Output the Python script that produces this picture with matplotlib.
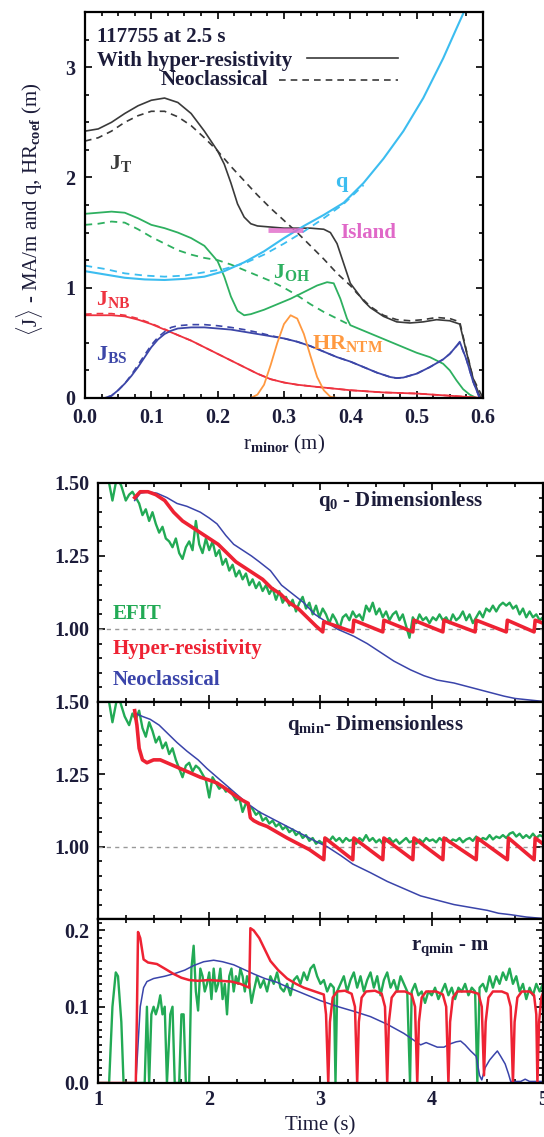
import numpy as np
import matplotlib.pyplot as plt
from matplotlib.ticker import MultipleLocator

plt.rcParams['font.family'] = ['Liberation Serif', 'DejaVu Sans']
plt.rcParams['font.weight'] = 'bold'
plt.rcParams['mathtext.fontset'] = 'custom'
plt.rcParams['mathtext.rm'] = 'Liberation Serif:bold'
plt.rcParams['mathtext.it'] = 'Liberation Serif:bold'
plt.rcParams['mathtext.bf'] = 'Liberation Serif:bold'

# =============================================================================
# Radial profiles at 2.5 s (r_minor in m)
# =============================================================================
jt_r = [0.00, 0.02, 0.04, 0.06, 0.08, 0.10, 0.12, 0.14, 0.16, 0.18, 0.20, 0.21, 0.22, 0.23, 0.24,
        0.25, 0.26, 0.28, 0.30, 0.32, 0.34, 0.36, 0.37, 0.38, 0.39, 0.40, 0.41, 0.42, 0.43, 0.45,
        0.47, 0.49, 0.51, 0.53, 0.55, 0.56, 0.565, 0.575, 0.585, 0.595, 0.60]
jt_hr = [2.42, 2.44, 2.50, 2.58, 2.65, 2.70, 2.72, 2.68, 2.58, 2.42, 2.24, 2.12, 1.95, 1.76, 1.64,
         1.58, 1.56, 1.55, 1.54, 1.54, 1.54, 1.53, 1.50, 1.40, 1.22, 1.04, 0.96, 0.88, 0.82, 0.74,
         0.69, 0.68, 0.69, 0.71, 0.70, 0.68, 0.67, 0.42, 0.18, 0.02, 0.00]
jt_neo_r = [0.00, 0.02, 0.04, 0.06, 0.08, 0.10, 0.12, 0.14, 0.16, 0.18, 0.20, 0.22, 0.24, 0.26,
            0.28, 0.30, 0.32, 0.34, 0.36, 0.38, 0.40, 0.41, 0.43, 0.45, 0.47, 0.49, 0.51, 0.53,
            0.55, 0.565, 0.575, 0.585, 0.60]
jt_neo = [2.33, 2.36, 2.42, 2.50, 2.56, 2.60, 2.60, 2.55, 2.47, 2.36, 2.24, 2.10, 1.97, 1.84,
          1.72, 1.61, 1.50, 1.38, 1.26, 1.13, 1.02, 0.95, 0.83, 0.75, 0.71, 0.70, 0.71, 0.73,
          0.72, 0.69, 0.43, 0.18, 0.00]

joh_r = [0.00, 0.02, 0.04, 0.06, 0.08, 0.10, 0.12, 0.14, 0.16, 0.18, 0.20, 0.21, 0.22, 0.23, 0.24,
         0.25, 0.27, 0.29, 0.31, 0.33, 0.35, 0.365, 0.375, 0.385, 0.395, 0.40, 0.42, 0.44, 0.46,
         0.48, 0.50, 0.52, 0.54, 0.55, 0.56, 0.57, 0.58, 0.59]
joh_hr = [1.67, 1.68, 1.69, 1.68, 1.63, 1.57, 1.54, 1.50, 1.45, 1.38, 1.24, 1.10, 0.92, 0.79, 0.75,
          0.76, 0.80, 0.85, 0.90, 0.96, 1.02, 1.05, 1.04, 0.90, 0.72, 0.66, 0.61, 0.56, 0.51,
          0.46, 0.41, 0.37, 0.31, 0.25, 0.16, 0.08, 0.03, 0.00]
joh_neo_r = [0.00, 0.02, 0.04, 0.06, 0.08, 0.10, 0.12, 0.14, 0.16, 0.18, 0.20, 0.22, 0.24, 0.26,
             0.28, 0.30, 0.32, 0.34, 0.36, 0.38, 0.40]
joh_neo = [1.57, 1.58, 1.60, 1.59, 1.53, 1.46, 1.40, 1.34, 1.30, 1.27, 1.25, 1.21, 1.16, 1.11,
           1.06, 1.00, 0.93, 0.85, 0.78, 0.72, 0.66]

q_r = [0.00, 0.03, 0.06, 0.09, 0.12, 0.15, 0.18, 0.21, 0.24, 0.27, 0.30, 0.33, 0.36, 0.39, 0.42,
       0.45, 0.48, 0.51, 0.54, 0.56, 0.575]
q_hr = [1.15, 1.12, 1.09, 1.075, 1.07, 1.08, 1.10, 1.15, 1.23, 1.33, 1.45, 1.56, 1.66, 1.77, 1.95,
        2.17, 2.42, 2.72, 3.08, 3.35, 3.55]
q_neo_r = [0.00, 0.03, 0.06, 0.09, 0.12, 0.15, 0.18, 0.21, 0.24, 0.27, 0.30, 0.33, 0.36, 0.39, 0.42]
q_neo = [1.20, 1.17, 1.13, 1.11, 1.10, 1.11, 1.14, 1.17, 1.22, 1.30, 1.40, 1.51, 1.63, 1.76, 1.93]

jnb_r = [0.00, 0.02, 0.04, 0.06, 0.08, 0.10, 0.12, 0.14, 0.16, 0.18, 0.20, 0.22, 0.24, 0.26, 0.28,
         0.30, 0.32, 0.35, 0.40, 0.45, 0.50, 0.55, 0.60]
jnb_hr = [0.75, 0.75, 0.75, 0.74, 0.71, 0.67, 0.62, 0.57, 0.52, 0.46, 0.40, 0.34, 0.28, 0.22, 0.17,
          0.14, 0.12, 0.10, 0.07, 0.05, 0.04, 0.02, 0.00]
jnb_neo = [0.76, 0.765, 0.765, 0.75, 0.72, 0.675, 0.625, 0.57, 0.52, 0.46, 0.40, 0.34, 0.28, 0.22,
           0.17, 0.14, 0.12, 0.10, 0.07, 0.05, 0.04, 0.02, 0.00]

jbs_r = [0.00, 0.03, 0.04, 0.05, 0.06, 0.07, 0.08, 0.09, 0.10, 0.11, 0.12, 0.13, 0.14, 0.16, 0.18,
         0.20, 0.22, 0.24, 0.26, 0.28, 0.30, 0.32, 0.34, 0.36, 0.38, 0.40, 0.42, 0.44, 0.46, 0.47,
         0.48, 0.50, 0.52, 0.54, 0.55, 0.56, 0.565, 0.575, 0.585, 0.595]
jbs_hr = [0.00, 0.00, 0.02, 0.07, 0.13, 0.20, 0.28, 0.37, 0.46, 0.53, 0.58, 0.61, 0.63, 0.64, 0.64,
          0.63, 0.62, 0.60, 0.58, 0.56, 0.54, 0.51, 0.47, 0.42, 0.37, 0.33, 0.28, 0.23, 0.19, 0.18,
          0.185, 0.22, 0.28, 0.35, 0.40, 0.47, 0.51, 0.35, 0.15, 0.00]
jbs_neo = [0.00, 0.00, 0.02, 0.07, 0.13, 0.21, 0.30, 0.39, 0.48, 0.55, 0.60, 0.64, 0.655, 0.665, 0.665,
           0.655, 0.64, 0.62, 0.595, 0.565, 0.54, 0.51, 0.47, 0.42, 0.37, 0.33, 0.28, 0.23, 0.19, 0.18,
           0.185, 0.22, 0.28, 0.35, 0.40, 0.47, 0.50, 0.35, 0.15, 0.00]

hr_r = [0.00, 0.25, 0.26, 0.27, 0.28, 0.29, 0.30, 0.31, 0.32, 0.33, 0.34, 0.35, 0.36, 0.37, 0.38, 0.60]
hr_ntm = [0.00, 0.00, 0.03, 0.12, 0.30, 0.50, 0.67, 0.75, 0.72, 0.58, 0.38, 0.19, 0.07, 0.01, 0.00, 0.00]

island_r = [0.276, 0.329]
island_q = 1.52

# =============================================================================
# Time traces (time in s)
# =============================================================================
# q0
q0_efit_t = [1.02, 1.06, 1.10, 1.13, 1.17, 1.21, 1.25, 1.28, 1.31, 1.34, 1.37, 1.40, 1.43, 1.46, 1.49,
             1.52, 1.55, 1.58, 1.61, 1.64, 1.67, 1.70, 1.73, 1.76, 1.79, 1.82, 1.85, 1.88, 1.91, 1.94,
             1.97, 2.00, 2.03, 2.06, 2.09, 2.12, 2.15, 2.18, 2.21, 2.24, 2.27, 2.30, 2.33, 2.36, 2.39,
             2.42, 2.45, 2.48, 2.51, 2.54, 2.57, 2.60, 2.63, 2.66, 2.69, 2.72, 2.75, 2.78, 2.81, 2.84,
             2.87, 2.90, 2.93, 2.96, 2.99, 3.02, 3.05, 3.08, 3.11, 3.14, 3.17, 3.20, 3.23, 3.26, 3.29,
             3.32, 3.35, 3.38, 3.41, 3.44, 3.47, 3.50, 3.53, 3.56, 3.59, 3.62, 3.65, 3.68, 3.71, 3.74,
             3.77, 3.80, 3.83, 3.86, 3.89, 3.92, 3.95, 3.98, 4.01, 4.04, 4.07, 4.10, 4.13, 4.16, 4.19,
             4.22, 4.25, 4.28, 4.31, 4.34, 4.37, 4.40, 4.43, 4.46, 4.49, 4.52, 4.55, 4.58, 4.61, 4.64,
             4.67, 4.70, 4.73, 4.76, 4.79, 4.82, 4.85, 4.88, 4.91, 4.94, 4.97, 5.00]
q0_efit = [1.52, 1.56, 1.50, 1.44, 1.52, 1.49, 1.44, 1.46, 1.47, 1.45, 1.43, 1.39, 1.41, 1.37, 1.40,
           1.36, 1.33, 1.35, 1.31, 1.30, 1.28, 1.31, 1.26, 1.24, 1.28, 1.30, 1.27, 1.37, 1.29, 1.26,
           1.31, 1.27, 1.30, 1.25, 1.27, 1.22, 1.24, 1.20, 1.22, 1.18, 1.20, 1.17, 1.19, 1.15, 1.17,
           1.14, 1.16, 1.13, 1.15, 1.12, 1.14, 1.10, 1.13, 1.09, 1.11, 1.08, 1.10, 1.06, 1.09, 1.11,
           1.07, 1.09, 1.05, 1.08, 1.04, 1.07, 1.05, 1.02, 1.05, 1.03, 1.00, 1.04, 1.05, 1.03, 1.06,
           1.04, 1.05, 1.03, 1.08, 1.06, 1.09, 1.05, 1.07, 1.04, 1.06, 1.03, 1.05, 1.06, 1.03, 1.05,
           1.01, 0.97, 1.04, 1.02, 1.05, 1.03, 1.04, 1.02, 1.04, 1.03, 1.05, 1.03, 1.04, 1.02, 1.05,
           1.03, 1.04, 1.06, 1.03, 1.05, 1.02, 1.04, 1.06, 1.04, 1.07, 1.06, 1.08, 1.06, 1.08, 1.09,
           1.08, 1.09, 1.07, 1.08, 1.05, 1.07, 1.04, 1.06, 1.04, 1.05, 1.03, 1.04]
q0_hr_t = [1.33, 1.38, 1.45, 1.52, 1.60, 1.68, 1.76, 1.84, 1.92, 2.00, 2.08, 2.16, 2.24, 2.32, 2.40,
           2.48, 2.56, 2.64, 2.72, 2.80, 2.88, 2.96, 3.02, 3.03, 3.29, 3.30, 3.56, 3.57, 3.83, 3.84,
           4.10, 4.11, 4.39, 4.40, 4.67, 4.68, 4.92, 4.93, 5.00]
q0_hr = [1.45, 1.47, 1.47, 1.46, 1.44, 1.40, 1.37, 1.35, 1.33, 1.31, 1.29, 1.26, 1.23, 1.21, 1.19,
         1.17, 1.14, 1.12, 1.09, 1.07, 1.04, 1.01, 0.99, 1.025, 0.99, 1.03, 0.99, 1.03, 0.99, 1.03,
         0.99, 1.03, 0.99, 1.03, 0.99, 1.03, 0.99, 1.03, 1.02]
q0_neo_t = [1.33, 1.38, 1.45, 1.53, 1.62, 1.71, 1.80, 1.92, 2.00, 2.07, 2.15, 2.22, 2.30, 2.38, 2.45,
            2.55, 2.65, 2.75, 2.85, 2.95, 3.03, 3.15, 3.30, 3.42, 3.54, 3.66, 3.81, 3.93, 4.05, 4.20,
            4.35, 4.50, 4.65, 4.75, 4.85, 5.00]
q0_neo = [1.44, 1.465, 1.47, 1.465, 1.45, 1.43, 1.42, 1.40, 1.38, 1.36, 1.32, 1.29, 1.27, 1.25, 1.23,
          1.20, 1.15, 1.12, 1.09, 1.05, 1.03, 1.00, 0.975, 0.95, 0.92, 0.89, 0.86, 0.84, 0.825, 0.815,
          0.80, 0.785, 0.77, 0.762, 0.758, 0.752]

# qmin
qm_efit_t = [1.02, 1.06, 1.10, 1.13, 1.17, 1.20, 1.24, 1.28, 1.31, 1.34, 1.37, 1.40, 1.43, 1.46, 1.49,
             1.52, 1.55, 1.58, 1.61, 1.64, 1.67, 1.70, 1.73, 1.76, 1.79, 1.82, 1.85, 1.88, 1.91, 1.94,
             1.97, 2.00, 2.03, 2.06, 2.09, 2.12, 2.15, 2.18, 2.21, 2.24, 2.27, 2.30, 2.33, 2.36, 2.39,
             2.42, 2.45, 2.48, 2.51, 2.54, 2.57, 2.60, 2.63, 2.66, 2.69, 2.72, 2.75, 2.78, 2.81, 2.84,
             2.87, 2.90, 2.93, 2.96, 2.99, 3.02, 3.05, 3.08, 3.11, 3.14, 3.17, 3.20, 3.23, 3.26, 3.29,
             3.32, 3.35, 3.38, 3.41, 3.44, 3.47, 3.50, 3.53, 3.56, 3.59, 3.62, 3.65, 3.68, 3.71, 3.74,
             3.77, 3.80, 3.83, 3.86, 3.89, 3.92, 3.95, 3.98, 4.01, 4.04, 4.07, 4.10, 4.13, 4.16, 4.19,
             4.22, 4.25, 4.28, 4.31, 4.34, 4.37, 4.40, 4.43, 4.46, 4.49, 4.52, 4.55, 4.58, 4.61, 4.64,
             4.67, 4.70, 4.73, 4.76, 4.79, 4.82, 4.85, 4.88, 4.91, 4.94, 4.97, 5.00]
qm_efit = [1.52, 1.55, 1.50, 1.43, 1.51, 1.50, 1.45, 1.42, 1.46, 1.44, 1.47, 1.41, 1.38, 1.43, 1.40,
           1.36, 1.38, 1.34, 1.36, 1.32, 1.34, 1.30, 1.27, 1.24, 1.28, 1.29, 1.26, 1.28, 1.27, 1.25,
           1.23, 1.17, 1.24, 1.22, 1.20, 1.21, 1.19, 1.20, 1.18, 1.16, 1.17, 1.12, 1.15, 1.14, 1.13,
           1.11, 1.12, 1.09, 1.10, 1.08, 1.09, 1.07, 1.08, 1.06, 1.07, 1.05, 1.06, 1.04, 1.05, 1.03,
           1.04, 1.02, 1.03, 1.01, 1.02, 1.01, 1.03, 1.02, 1.035, 1.02, 1.03, 1.015, 1.03, 1.02, 1.025,
           1.01, 1.03, 1.02, 1.04, 1.02, 1.03, 1.015, 1.025, 1.01, 1.02, 1.03, 1.015, 1.025, 1.01, 1.02,
           1.03, 1.015, 1.02, 1.01, 1.025, 1.015, 1.03, 1.02, 1.025, 1.015, 1.03, 1.02, 1.03, 1.015, 1.025,
           1.02, 1.03, 1.015, 1.025, 1.03, 1.02, 1.035, 1.02, 1.03, 1.025, 1.04, 1.025, 1.035, 1.03, 1.04,
           1.03, 1.045, 1.05, 1.035, 1.045, 1.03, 1.04, 1.03, 1.045, 1.03, 1.04, 1.035]
qm_hr_t = [1.33, 1.35, 1.37, 1.40, 1.44, 1.50, 1.56, 1.65, 1.74, 1.83, 1.92, 2.00, 2.07, 2.15, 2.22,
           2.30, 2.35, 2.37, 2.40, 2.45, 2.52, 2.61, 2.70, 2.80, 2.90, 3.03, 3.04, 3.29, 3.30, 3.56,
           3.57, 3.83, 3.84, 4.10, 4.11, 4.40, 4.41, 4.68, 4.69, 4.92, 4.93, 5.00]
qm_hr = [1.47, 1.42, 1.34, 1.30, 1.29, 1.30, 1.30, 1.285, 1.27, 1.255, 1.24, 1.23, 1.22, 1.20, 1.18,
         1.16, 1.15, 1.10, 1.09, 1.08, 1.07, 1.05, 1.03, 1.01, 0.99, 0.955, 1.03, 0.955, 1.03, 0.955,
         1.03, 0.955, 1.03, 0.955, 1.03, 0.955, 1.03, 0.955, 1.03, 0.955, 1.03, 1.01]
qm_neo_t = [1.34, 1.40, 1.47, 1.55, 1.63, 1.71, 1.80, 1.90, 1.98, 2.07, 2.16, 2.25, 2.34, 2.45, 2.55,
            2.65, 2.75, 2.85, 2.95, 3.06, 3.18, 3.29, 3.45, 3.60, 3.75, 3.90, 4.05, 4.20, 4.35, 4.50,
            4.60, 4.71, 4.85, 5.00]
qm_neo = [1.46, 1.45, 1.44, 1.42, 1.39, 1.36, 1.33, 1.30, 1.27, 1.24, 1.21, 1.18, 1.15, 1.12, 1.10,
          1.08, 1.06, 1.04, 1.02, 1.00, 0.97, 0.94, 0.91, 0.88, 0.855, 0.83, 0.815, 0.80, 0.79, 0.78,
          0.77, 0.765, 0.757, 0.752]

# radius of qmin
rq_efit_t = [1.00, 1.10, 1.13, 1.16, 1.18, 1.21, 1.23, 1.42, 1.44, 1.46, 1.48, 1.50, 1.52, 1.54, 1.56,
             1.58, 1.60, 1.62, 1.65, 1.67, 1.69, 1.73, 1.75, 1.77, 1.79, 1.82, 1.84, 1.86, 1.88, 1.90,
             1.92, 1.94, 1.96, 1.98, 2.00, 2.02, 2.04, 2.06, 2.08, 2.10, 2.12, 2.14, 2.16, 2.18, 2.20,
             2.22, 2.24, 2.26, 2.28, 2.30, 2.32, 2.34, 2.36, 2.38, 2.40, 2.43, 2.46, 2.49, 2.52, 2.55,
             2.58, 2.61, 2.64, 2.67, 2.70, 2.73, 2.76, 2.79, 2.82, 2.85, 2.88, 2.91, 2.94, 2.97, 3.00,
             3.03, 3.06, 3.09, 3.12, 3.135, 3.15, 3.18, 3.21, 3.24, 3.27, 3.30, 3.33, 3.36, 3.39, 3.42,
             3.45, 3.48, 3.51, 3.54, 3.57, 3.60, 3.63, 3.66, 3.69, 3.72, 3.75, 3.78, 3.805, 3.82, 3.85,
             3.88, 3.91, 3.94, 3.97, 4.00, 4.03, 4.06, 4.09, 4.12, 4.15, 4.18, 4.21, 4.24, 4.27, 4.30,
             4.33, 4.36, 4.39, 4.41, 4.43, 4.46, 4.49, 4.52, 4.55, 4.58, 4.61, 4.64, 4.67, 4.70, 4.73,
             4.76, 4.79, 4.82, 4.85, 4.88, 4.91, 4.94, 4.97, 5.00]
rq_efit = [0.00, 0.00, 0.10, 0.145, 0.14, 0.08, 0.00, 0.00, 0.10, 0.00, 0.09, 0.10, 0.09, 0.10, 0.115,
           0.09, 0.10, 0.00, 0.09, 0.10, 0.00, 0.00, 0.09, 0.09, 0.00, 0.00, 0.15, 0.18, 0.12, 0.095,
           0.15, 0.14, 0.12, 0.13, 0.145, 0.11, 0.15, 0.12, 0.13, 0.15, 0.11, 0.13, 0.09, 0.14, 0.15,
           0.12, 0.14, 0.13, 0.15, 0.14, 0.12, 0.14, 0.13, 0.105, 0.12, 0.14, 0.125, 0.135, 0.12, 0.14,
           0.13, 0.145, 0.125, 0.12, 0.13, 0.115, 0.135, 0.14, 0.13, 0.145, 0.135, 0.15, 0.155, 0.14, 0.13,
           0.135, 0.12, 0.13, 0.125, 0.00, 0.12, 0.13, 0.14, 0.12, 0.135, 0.145, 0.125, 0.14, 0.12, 0.135,
           0.145, 0.125, 0.14, 0.115, 0.135, 0.145, 0.125, 0.135, 0.12, 0.14, 0.13, 0.12, 0.00, 0.12, 0.13,
           0.115, 0.12, 0.105, 0.12, 0.115, 0.125, 0.11, 0.12, 0.13, 0.115, 0.125, 0.11, 0.125, 0.12, 0.13,
           0.115, 0.125, 0.12, 0.00, 0.125, 0.13, 0.12, 0.14, 0.125, 0.14, 0.13, 0.145, 0.135, 0.15, 0.13,
           0.14, 0.12, 0.13, 0.11, 0.125, 0.115, 0.13, 0.12, 0.13]
rq_hr_t = [1.00, 1.34, 1.35, 1.36, 1.38, 1.41, 1.45, 1.53, 1.60, 1.68, 1.75, 1.82, 1.90, 2.00, 2.10,
           2.20, 2.28, 2.36, 2.37, 2.40, 2.45, 2.50, 2.55, 2.62, 2.70, 2.78, 2.85, 2.95, 3.03, 3.05,
           3.07, 3.085, 3.11, 3.15, 3.22, 3.28, 3.31, 3.33, 3.345, 3.37, 3.41, 3.49, 3.55, 3.58, 3.60,
           3.615, 3.64, 3.68, 3.76, 3.82, 3.85, 3.87, 3.885, 3.91, 3.95, 4.04, 4.10, 4.13, 4.15, 4.165,
           4.19, 4.23, 4.35, 4.42, 4.45, 4.47, 4.485, 4.51, 4.55, 4.63, 4.68, 4.71, 4.73, 4.745, 4.77,
           4.81, 4.88, 4.92, 4.94, 4.95, 4.965, 4.985, 5.00]
rq_hr = [0.00, 0.00, 0.09, 0.198, 0.19, 0.162, 0.158, 0.156, 0.150, 0.143, 0.138, 0.135, 0.134, 0.135, 0.134,
         0.133, 0.130, 0.125, 0.203, 0.200, 0.190, 0.175, 0.160, 0.148, 0.137, 0.130, 0.125, 0.120, 0.116, 0.09,
         0.00, 0.08, 0.112, 0.120, 0.121, 0.117, 0.10, 0.00, 0.08, 0.112, 0.120, 0.121, 0.117, 0.10, 0.00,
         0.08, 0.112, 0.120, 0.120, 0.116, 0.10, 0.00, 0.08, 0.112, 0.120, 0.120, 0.116, 0.10, 0.00, 0.08,
         0.112, 0.120, 0.120, 0.117, 0.10, 0.01, 0.08, 0.112, 0.120, 0.120, 0.117, 0.10, 0.00, 0.08, 0.112,
         0.120, 0.120, 0.115, 0.09, 0.00, 0.08, 0.112, 0.118]
rq_neo_t = [1.00, 1.34, 1.36, 1.38, 1.41, 1.44, 1.50, 1.60, 1.70, 1.78, 1.86, 1.95, 2.04, 2.12, 2.22,
            2.31, 2.40, 2.50, 2.61, 2.70, 2.85, 3.00, 3.16, 3.30, 3.45, 3.60, 3.75, 3.85, 3.90, 3.95,
            4.00, 4.05, 4.11, 4.16, 4.22, 4.26, 4.30, 4.35, 4.40, 4.43, 4.45, 4.48, 4.52, 4.56, 4.59,
            4.62, 4.66, 4.69, 4.71, 4.80, 4.84, 4.88, 5.00]
rq_neo = [0.00, 0.00, 0.05, 0.10, 0.125, 0.133, 0.137, 0.140, 0.144, 0.148, 0.154, 0.159, 0.161, 0.159, 0.155,
          0.149, 0.143, 0.137, 0.132, 0.126, 0.117, 0.108, 0.100, 0.094, 0.087, 0.077, 0.065, 0.055, 0.050, 0.053,
          0.050, 0.047, 0.047, 0.051, 0.054, 0.055, 0.050, 0.042, 0.035, 0.010, 0.004, 0.020, 0.030, 0.037, 0.042,
          0.035, 0.025, 0.012, 0.002, 0.002, 0.005, 0.002, 0.002]

C_TXT = '#1c1c3a'
C_JT = '#3a3a3a'
C_Q = '#3cbdf0'
C_OH = '#2eb060'
C_NB = '#ee3340'
C_BS = '#3c46a8'
C_HR = '#ff9940'
C_ISL = '#e068c8'
C_EFIT = '#22aa55'
C_HYP = '#ee2233'
C_NEO = '#3a44aa'

FS_TICK = 14.5
FS_TXT = 15


def estilo(ax, pad=6):
    ax.tick_params(which='both', direction='in', top=True, right=True, width=1.2,
                   labelsize=FS_TICK, colors='black', labelcolor=C_TXT, pad=pad)
    ax.tick_params(which='major', length=5)
    ax.tick_params(which='minor', length=3)
    for s in ax.spines.values():
        s.set_linewidth(1.6)


fig = plt.figure(figsize=(5.44, 11.37), dpi=100)

# -----------------------------------------------------------------------------
# Panel superior: perfiles radiales
# -----------------------------------------------------------------------------
ax = fig.add_axes([0.1562, 0.6500, 0.7316, 0.3394])
ax.plot(jt_r, jt_hr, color=C_JT, lw=1.2)
ax.plot(jt_neo_r, jt_neo, color=C_JT, lw=1.2, ls=(0, (4, 3)))
ax.plot(joh_r, joh_hr, color=C_OH, lw=1.3)
ax.plot(joh_neo_r, joh_neo, color=C_OH, lw=1.3, ls=(0, (4, 3)))
ax.plot(q_r, q_hr, color=C_Q, lw=1.5)
ax.plot(q_neo_r, q_neo, color=C_Q, lw=1.3, ls=(0, (4, 3)))
ax.plot(jnb_r, jnb_neo, color=C_NB, lw=1.2, ls=(0, (4, 3)))
ax.plot(jnb_r, jnb_hr, color=C_NB, lw=1.3)
ax.plot(jbs_r, jbs_neo, color=C_BS, lw=1.2, ls=(0, (4, 3)))
ax.plot(jbs_r, jbs_hr, color=C_BS, lw=1.3)
ax.plot(hr_r, hr_ntm, color=C_HR, lw=1.3)
ax.plot(island_r, [island_q, island_q], color=C_ISL, lw=3.5, alpha=0.8, solid_capstyle='butt')

ax.set_xlim(0, 0.6)
ax.set_ylim(0, 3.5)
ax.set_xticks(np.arange(0, 0.61, 0.1))
ax.set_xticklabels(['%.1f' % v for v in np.arange(0, 0.61, 0.1)])
ax.set_yticks([0, 1, 2, 3])
ax.xaxis.set_minor_locator(MultipleLocator(0.025))
ax.yaxis.set_minor_locator(MultipleLocator(0.25))
estilo(ax, pad=7)
ax.set_xlabel(r'r$_{\mathrm{minor}}$ (m)', fontsize=FS_TXT, color=C_TXT)
ax.xaxis.set_label_coords(0.5, -0.092)
ax.set_ylabel(r'$\langle$J$\rangle$ - MA/m and q, HR$_{\mathrm{coef}}$ (m)', fontsize=FS_TXT, color=C_TXT)
ax.yaxis.set_label_coords(-0.10, 0.49)

ax.text(0.018, 3.27, '117755 at 2.5 s', fontsize=FS_TXT, color=C_TXT, va='center')
ax.text(0.018, 3.06, 'With hyper-resistivity', fontsize=FS_TXT, color=C_TXT, va='center')
ax.plot([0.335, 0.472], [3.08, 3.08], color=C_JT, lw=1.2)
ax.text(0.276, 2.88, 'Neoclassical', fontsize=FS_TXT, color=C_TXT, va='center', ha='right')
ax.plot([0.292, 0.472], [2.88, 2.88], color=C_JT, lw=1.2, ls=(0, (4, 3)))

ax.text(0.036, 2.13, r'J$_{\mathrm{T}}$', fontsize=FS_TXT + 1, color=C_JT, va='center')
ax.text(0.377, 1.96, 'q', fontsize=FS_TXT + 1, color=C_Q, va='center')
ax.text(0.385, 1.50, 'Island', fontsize=FS_TXT, color=C_ISL, va='center')
ax.text(0.283, 1.14, r'J$_{\mathrm{OH}}$', fontsize=FS_TXT + 1, color=C_OH, va='center')
ax.text(0.017, 0.89, r'J$_{\mathrm{NB}}$', fontsize=FS_TXT + 1, color=C_NB, va='center')
ax.text(0.017, 0.39, r'J$_{\mathrm{BS}}$', fontsize=FS_TXT + 1, color=C_BS, va='center')
ax.text(0.343, 0.49, r'HR$_{\mathrm{NTM}}$', fontsize=FS_TXT + 1, color=C_HR, va='center')

# -----------------------------------------------------------------------------
# Paneles inferiores: evolución temporal
# -----------------------------------------------------------------------------
ax1 = fig.add_axes([0.1801, 0.3826, 0.818, 0.1926])
ax2 = fig.add_axes([0.1801, 0.1917, 0.818, 0.1909])
ax3 = fig.add_axes([0.1801, 0.0475, 0.818, 0.1442])

for a in (ax1, ax2):
    a.axhline(1.0, color='#999999', lw=1.0, ls=(0, (3, 3)))
    a.set_ylim(0.75, 1.5)
    a.set_yticks([1.0, 1.25, 1.5])
    a.set_yticklabels(['1.00', '1.25', '1.50'])
    a.yaxis.set_minor_locator(MultipleLocator(0.05))

ax1.plot(q0_efit_t, q0_efit, color=C_EFIT, lw=1.7)
ax1.plot(q0_neo_t, q0_neo, color=C_NEO, lw=1.1)
ax1.plot(q0_hr_t, q0_hr, color=C_HYP, lw=2.6)

ax2.plot(qm_efit_t, qm_efit, color=C_EFIT, lw=1.7)
ax2.plot(qm_neo_t, qm_neo, color=C_NEO, lw=1.1)
ax2.plot(qm_hr_t, qm_hr, color=C_HYP, lw=2.6)

ax3.plot(rq_efit_t, rq_efit, color=C_EFIT, lw=1.7)
ax3.plot(rq_neo_t, rq_neo, color=C_NEO, lw=1.1)
ax3.plot(rq_hr_t, rq_hr, color=C_HYP, lw=1.8)
ax3.set_ylim(0, 0.215)
ax3.set_yticks([0.0, 0.1, 0.2])
ax3.set_yticklabels(['0.0', '0.1', '0.2'])
ax3.yaxis.set_minor_locator(MultipleLocator(0.01))

for a in (ax1, ax2, ax3):
    a.set_xlim(1, 5)
    a.set_xticks([1, 2, 3, 4, 5])
    a.xaxis.set_minor_locator(MultipleLocator(0.25))
    estilo(a, pad=6)
ax1.tick_params(labelbottom=False)
ax2.tick_params(labelbottom=False)
ax3.tick_params(axis='x', pad=5)
ax3.set_xlabel('Time (s)', fontsize=FS_TXT, color=C_TXT)
ax3.xaxis.set_label_coords(0.5, -0.205)

ax1.text(2.98, 1.44, r'q$_{\mathrm{0}}$ - Dimensionless', fontsize=FS_TXT, color=C_TXT, va='center')
ax1.text(1.13, 1.05, 'EFIT', fontsize=FS_TXT, color=C_EFIT, va='center')
ax1.text(1.13, 0.93, 'Hyper-resistivity', fontsize=FS_TXT, color=C_HYP, va='center')
ax1.text(1.13, 0.825, 'Neoclassical', fontsize=FS_TXT, color=C_NEO, va='center')
ax2.text(2.70, 1.42, r'q$_{\mathrm{min}}$- Dimensionless', fontsize=FS_TXT, color=C_TXT, va='center')
ax3.text(3.81, 0.177, r'r$_{\mathrm{qmin}}$ - m', fontsize=FS_TXT, color=C_TXT, va='center')

plt.savefig('out.png', dpi=100)
